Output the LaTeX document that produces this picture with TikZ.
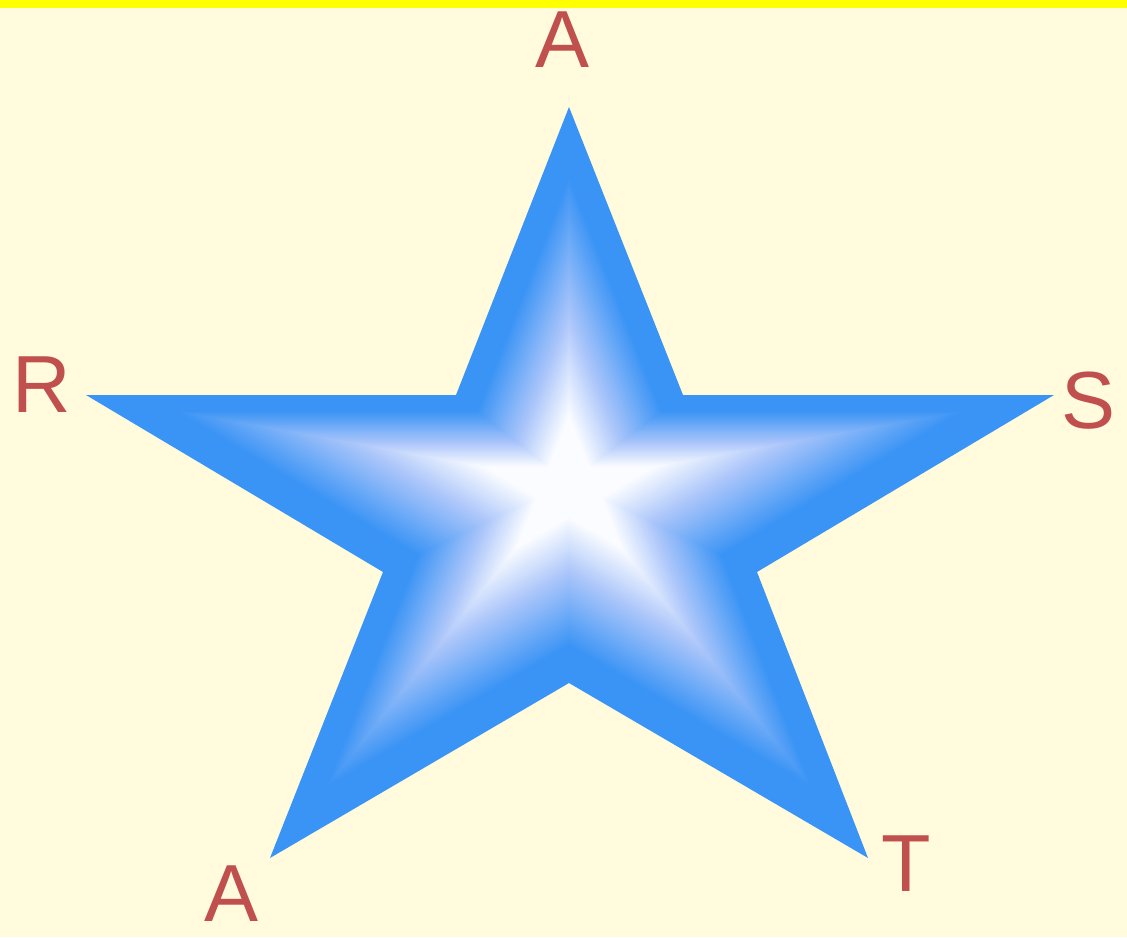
\documentclass[tikz,border=0pt]{standalone}
\usepackage{fontspec}
\setmainfont{Liberation Sans}
\definecolor{bgc}{RGB}{255,251,220}
\definecolor{bandc}{RGB}{255,255,0}
\definecolor{txtc}{RGB}{192,80,77}
\definecolor{edgec}{RGB}{58,148,245}
\definecolor{midc}{RGB}{172,198,250}
\definecolor{ctrc}{RGB}{250,252,255}
\tikzset{
  lbl/.style={text=txtc, inner sep=0pt, anchor=center, font=\fontsize{81}{84}\selectfont}
}
\begin{document}
\begin{tikzpicture}[x=1pt,y=-1pt]
\fill[bgc] (0,0) rectangle (1127,937);
\fill[bandc] (0,0) rectangle (1127,8);
\useasboundingbox (0,0) rectangle (1127,937);
% star geometry
\coordinate (O) at (569,482);
\def\N{100}
\foreach \i in {0,...,\N}{
  \pgfmathsetmacro\s{1-\i/(\N+1)}
  \pgfmathsetmacro\a{min(max((0.82-\s)/0.37,0),1)*100}
  \pgfmathsetmacro\b{min(max((0.45-\s)/0.27,0),1)*100}
  \colorlet{tmpc}{midc!\a!edgec}
  \colorlet{fc}{ctrc!\b!tmpc}
  \fill[fc, shift={(O)}, scale=\s, shift={(-569,-482)}]
    (569,107) -- (683,395) -- (1054,395) -- (757,572) -- (868,858)
    -- (569,683) -- (270,858) -- (383,572) -- (86,395) -- (456,395) -- cycle;
}
\node[lbl] (a1) at (563,40) {A};
\node[lbl] (r) at (41.5,385) {R};
\node[lbl] (s) at (1088,401) {S};
\node[lbl] (t) at (906,864) {T};
\node[lbl] (a2) at (232,894) {A};
\end{tikzpicture}
\end{document}
